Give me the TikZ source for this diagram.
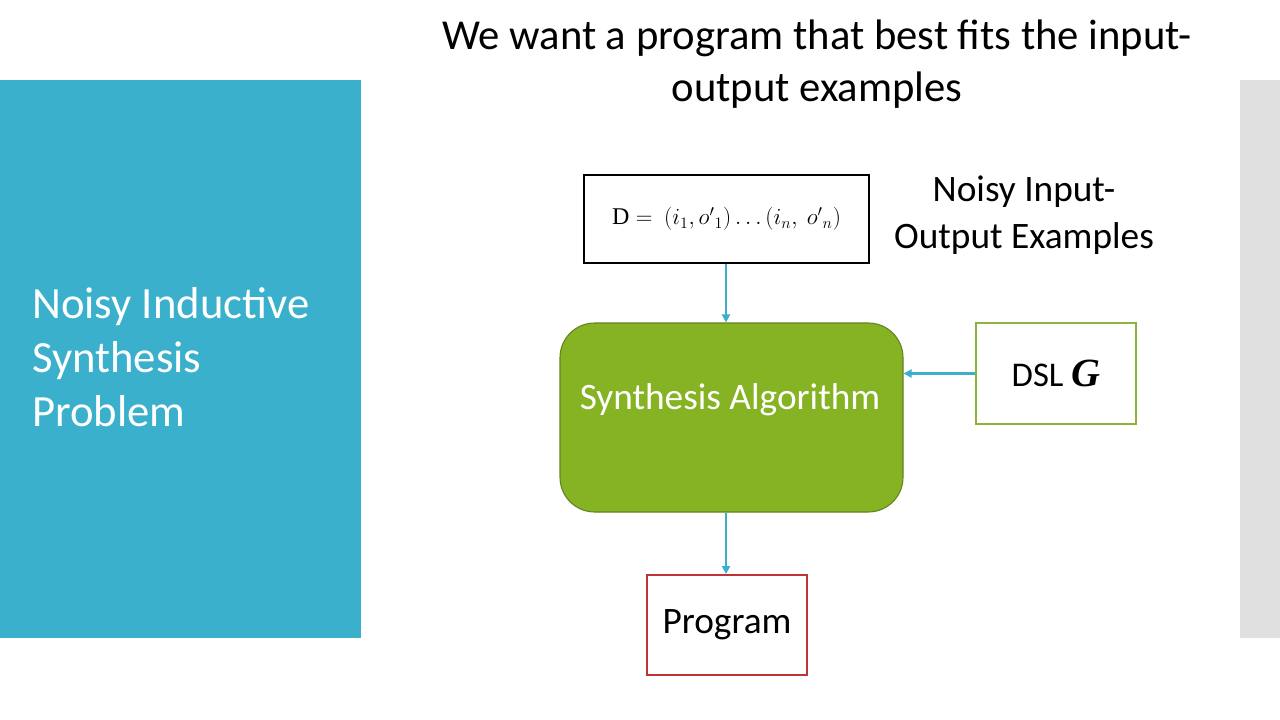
\documentclass[tikz,border=0pt]{standalone}
\usepackage{fontspec}
\setmainfont{Carlito}
\newfontfamily\mathserif{Liberation Serif}
\usetikzlibrary{arrows.meta}
\definecolor{tealblue}{RGB}{58,176,204}
\definecolor{panelgray}{RGB}{224,224,224}
\definecolor{algfill}{RGB}{134,179,36}
\definecolor{algdraw}{RGB}{96,132,30}
\definecolor{dslgreen}{RGB}{140,180,58}
\definecolor{progred}{RGB}{190,52,52}
\tikzset{
  conn/.style={draw=tealblue, line width=1.6pt, -{Triangle[length=6pt,width=6pt]}},
}
\begin{document}
\begin{tikzpicture}[x=0.75pt,y=-0.75pt]
\useasboundingbox (0,0) rectangle (1280,720);
\fill[white] (0,0) rectangle (1280,720);
\fill[tealblue] (0,80) rectangle (361,638);
\fill[panelgray] (1240,80) rectangle (1280,638);
\node[anchor=west, inner sep=0pt, text=white, font=\fontsize{33.5}{40.5}\selectfont, align=left] (side) at (32,357) {Noisy Inductive\\Synthesis\\Problem};
\node[font=\fontsize{32}{39}\selectfont, align=center] (title) at (817,64) {We want a program that best fits the input-\\output examples};
\node[draw=black, line width=1.5pt, minimum width=285*0.75pt, minimum height=88*0.75pt, inner sep=0pt] (data) at (726.5,219) {\fontsize{18}{22}\selectfont$\hbox{\mathserif D} =\ \Bigl(i_1, o'{}_1\Bigr)\ldots(i_n,\ o'{}_n)$};
\node[font=\fontsize{28}{35}\selectfont, align=center] (noisy) at (1024,215) {Noisy Input-\\Output Examples};
\node[draw=algdraw, fill=algfill, line width=0.8pt, rounded corners=26pt, minimum width=343*0.75pt, minimum height=189*0.75pt, inner sep=0pt] (alg) at (731.5,417.5) {};
\node[text=white, font=\fontsize{28}{32}\selectfont] (algtext) at (730,400) {Synthesis Algorithm};
\node[draw=dslgreen, line width=1.5pt, minimum width=160*0.75pt, minimum height=101*0.75pt, inner sep=0pt, font=\fontsize{26}{30}\selectfont] (dsl) at (1056,373.5) {DSL {\mathserif\fontsize{30}{32}\selectfont\bfseries\itshape G}};
\node[draw=progred, line width=1.5pt, minimum width=160*0.75pt, minimum height=100*0.75pt, inner sep=0pt, font=\fontsize{28}{32}\selectfont] (prog) at (727,625) {Program};
\draw[conn] (data.south -| 726,0) -- (alg.north -| 726,0);
\draw[conn] (dsl.west) -- (alg.east |- dsl.west);
\draw[conn] (alg.south -| 726,0) -- (prog.north -| 726,0);
\end{tikzpicture}
\end{document}
